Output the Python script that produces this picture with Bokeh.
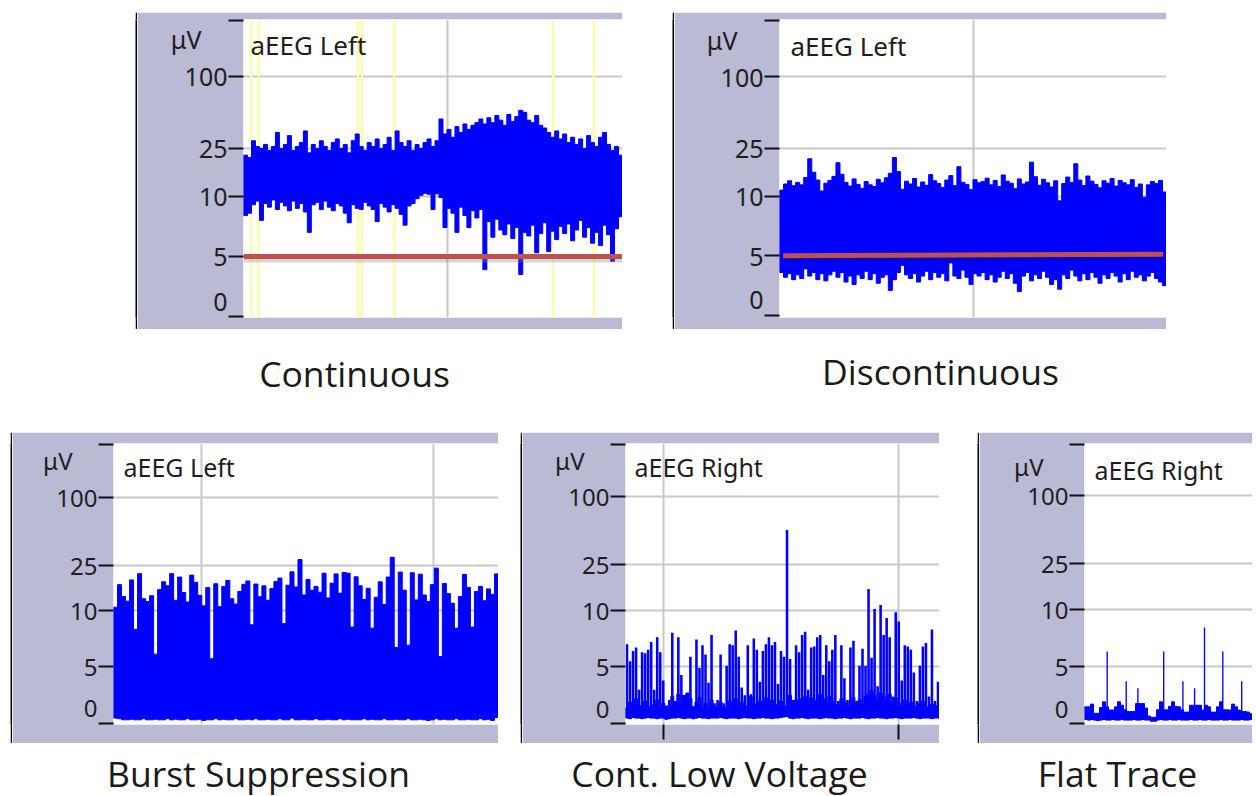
import numpy as np
from bokeh.plotting import figure
from bokeh.models import (Range1d, FixedTicker, LinearAxis, Grid, Spacer,
                          CustomJSTickFormatter)
from bokeh.layouts import row, column
from bokeh.embed import file_html
from bokeh.resources import INLINE
from bokeh.core.properties import value

# ---------------- data ----------------
ytick_values = [0, 5, 10, 25, 100]
ytick_labels = ["0", "5", "10", "25", "100"]
grid_values = [5, 10, 25, 100]
unit_label = "μV"
captions_top = ["Continuous", "Discontinuous"]
captions_bottom = ["Burst Suppression", "Cont. Low Voltage", "Flat Trace"]
channel_labels = ["aEEG Left", "aEEG Left", "aEEG Left", "aEEG Right", "aEEG Right"]

# Continuous (upper / lower margin per column, µV)
cont_top = [22, 21, 29, 26, 25, 27, 24, 26, 34, 25,
            27, 32, 24, 26, 28, 35, 23, 27, 25, 29,
            26, 24, 28, 30, 25, 27, 23, 29, 33, 26,
            24, 28, 26, 30, 25, 27, 31, 24, 35, 28,
            26, 29, 24, 27, 25, 28, 30, 26, 29, 44,
            33, 36, 31, 38, 34, 40, 36, 39, 41, 44,
            40, 45, 41, 47, 43, 39, 48, 42, 46, 52,
            50, 43, 41, 47, 39, 37, 34, 31, 35, 30,
            33, 28, 31, 27, 30, 25, 32, 28, 26, 31,
            34, 27, 24, 26, 22]
cont_bottom = [8.4, 8.6, 9.3, 9.6, 8.0, 9.4, 9.1, 9.7, 8.9, 9.5,
               9.2, 8.8, 9.6, 9.0, 9.4, 8.7, 7.0, 9.3, 9.5, 8.9,
               9.6, 9.1, 8.8, 9.4, 9.2, 8.6, 7.8, 9.3, 9.0, 8.9,
               9.5, 9.2, 8.9, 7.9, 9.4, 9.1, 8.7, 9.3, 9.0, 8.5,
               7.6, 9.2, 9.4, 9.8, 10.2, 10.6, 10.4, 8.9, 10.5, 9.9,
               7.4, 9.0, 8.6, 7.0, 9.1, 8.4, 7.4, 8.8, 8.2, 8.9,
               3.9, 7.9, 6.6, 8.1, 7.2, 6.8, 7.7, 6.5, 7.4, 3.5,
               7.0, 6.7, 7.6, 5.3, 6.9, 7.8, 5.4, 7.1, 6.4, 7.5,
               6.9, 7.7, 6.3, 7.2, 8.0, 6.6, 7.4, 6.1, 7.0, 5.9,
               7.6, 6.8, 4.6, 7.3, 8.3]
cont_markers = [1.93, 3.76, 28.7, 29.7, 37.8, 77.6, 87.8]
cont_threshold = [5.0, 5.0]

# Discontinuous
disc_top = [11.2, 12.6, 13.4, 12.2, 13.0, 12.4, 14.3, 20.5, 15.8, 13.6,
            11.0, 12.8, 13.5, 14.6, 19.0, 15.2, 13.0, 12.1, 13.9, 12.5,
            11.6, 13.2, 12.4, 12.0, 13.8, 12.9, 14.2, 15.5, 21.0, 16.0,
            11.4, 13.3, 12.6, 14.0, 11.9, 13.1, 12.3, 15.1, 13.4, 12.7,
            11.8, 13.6, 14.8, 12.2, 17.6, 13.0, 12.5, 11.3, 13.7, 12.9,
            13.2, 14.1, 12.4, 13.5, 12.0, 15.0, 13.3, 12.8, 11.5, 13.9,
            12.6, 13.1, 19.2, 14.5, 12.3, 13.8, 12.9, 11.9, 13.4, 9.6,
            12.7, 14.4, 13.0, 18.6, 13.6, 12.2, 14.7, 13.3, 12.5, 11.7,
            13.4, 12.8, 14.0, 12.1, 13.5, 12.9, 12.4, 13.7, 11.8, 12.6,
            9.9, 12.4, 13.2, 12.7, 13.5, 10.8]
disc_bottom = [3.6, 3.2, 3.5, 3.0, 3.4, 3.1, 3.9, 3.3, 3.6, 3.0,
               3.5, 2.9, 3.4, 3.7, 3.2, 3.6, 2.8, 3.3, 2.6, 3.4,
               3.1, 3.7, 3.0, 3.5, 2.7, 3.2, 3.4, 2.1, 3.0, 3.6,
               4.2, 3.4, 3.1, 3.5, 2.8, 3.3, 3.7, 3.0, 3.6, 3.2,
               3.5, 2.9, 4.4, 3.3, 3.1, 3.8, 3.2, 2.6, 3.5, 3.3,
               3.6, 3.0, 3.4, 2.8, 3.2, 3.7, 3.1, 3.5, 2.7, 2.0,
               3.3, 3.6, 2.9, 3.4, 3.1, 3.7, 3.2, 2.6, 3.0, 2.2,
               3.4, 3.1, 3.8, 3.3, 2.9, 3.5, 3.0, 3.6, 3.2, 2.7,
               3.4, 3.1, 3.6, 3.3, 2.8, 3.5, 3.0, 3.7, 3.2, 3.4,
               2.9, 3.3, 3.6, 3.1, 2.8, 2.5]
disc_threshold = [5.0, 5.13]

# Burst suppression
burst_top = [10.6, 16.8, 13.2, 12.0, 18.5, 8.3, 21.0, 12.6, 11.9, 13.4,
             6.1, 15.2, 17.8, 16.4, 21.0, 12.2, 19.6, 14.3, 11.8, 20.4,
             17.6, 13.5, 10.9, 15.8, 5.7, 17.1, 10.7, 16.2, 18.3, 12.6,
             11.3, 14.6, 16.9, 18.1, 8.7, 17.0, 13.1, 16.4, 12.2, 15.5,
             17.9, 19.2, 8.8, 16.6, 21.8, 16.0, 28.0, 13.6, 18.7, 15.0,
             16.2, 14.4, 21.2, 12.8, 17.3, 20.9, 14.1, 21.5, 21.2, 8.5,
             19.7, 16.4, 12.4, 15.6, 8.4, 13.0, 17.8, 11.2, 19.6, 29.3,
             6.7, 21.7, 15.0, 6.9, 21.4, 12.3, 20.8, 13.6, 11.9, 16.8,
             23.5, 5.9, 17.2, 14.0, 11.5, 8.4, 13.2, 20.7, 15.9, 8.5,
             14.6, 16.2, 12.1, 15.4, 13.8, 20.9]
burst_bottom = [0.45, 0.4, 0.3, 0.3, 0.35, 0.3, 0.3, 0.4, 0.3, 0.3,
                0.35, 0.3, 0.3, 0.4, 0.3, 0.35, 0.3, 0.3, 0.4, 0.3,
                0.3, 0.35, 0.25, 0.3, 0.3, 0.4, 0.3, 0.35, 0.3, 0.3,
                0.4, 0.3, 0.3, 0.35, 0.3, 0.4, 0.3, 0.3, 0.35, 0.3,
                0.3, 0.4, 0.3, 0.3, 0.45, 0.3, 0.3, 0.35, 0.3, 0.3,
                0.4, 0.3, 0.3, 0.35, 0.3, 0.3, 0.4, 0.3, 0.35, 0.3,
                0.3, 0.3, 0.4, 0.3, 0.35, 0.3, 0.3, 0.4, 0.3, 0.3,
                0.35, 0.3, 0.3, 0.4, 0.3, 0.3, 0.35, 0.3, 0.25, 0.3,
                0.4, 0.3, 0.35, 0.3, 0.3, 0.4, 0.3, 0.3, 0.35, 0.3,
                0.3, 0.4, 0.3, 0.35, 0.25, 0.5]

# Continuous low voltage
clv_top = [7.0, 5.5, 6.4, 6.7, 3.0, 6.3, 6.2, 6.5, 7.2, 3.0,
           7.6, 6.3, 3.8, 1.6, 2.1, 8.0, 2.0, 7.6, 4.3, 2.5,
           2.7, 5.9, 1.5, 7.4, 4.9, 6.9, 6.1, 3.6, 7.8, 1.8,
           2.1, 6.1, 1.8, 5.1, 7.0, 6.9, 8.2, 5.9, 3.2, 2.5,
           6.9, 2.6, 7.5, 6.5, 3.7, 6.4, 7.0, 7.6, 6.9, 7.2,
           3.5, 6.4, 5.9, 50.6, 5.7, 2.1, 6.9, 6.3, 7.8, 8.1,
           3.0, 6.7, 6.8, 7.6, 7.8, 4.3, 6.9, 5.5, 6.5, 7.8,
           2.0, 6.9, 4.0, 2.1, 6.7, 7.3, 2.0, 5.1, 6.6, 5.1,
           15.3, 5.8, 10.2, 3.3, 11.1, 7.8, 9.3, 7.6, 2.4, 9.8,
           9.0, 3.8, 6.9, 6.8, 6.5, 4.5, 2.0, 5.1, 6.8, 7.1,
           2.4, 8.3, 2.0, 3.7]
clv_base = [1.4, 1.9, 1.3, 2.2, 1.6, 1.3, 2.0, 1.5, 1.2, 1.7,
            2.1, 1.4, 1.8, 1.3, 1.6, 2.4, 1.9, 2.6, 2.3, 2.5,
            2.7, 2.2, 1.5, 1.9, 2.3, 1.4, 1.8, 1.3, 2.1, 1.6,
            1.4, 1.9, 1.5, 1.3, 2.0, 1.7, 2.2, 1.5, 1.9, 1.6,
            1.3, 2.4, 1.8, 1.4, 2.0, 1.6, 2.3, 1.9, 2.1, 1.5,
            1.7, 2.0, 1.6, 1.4, 2.5, 1.8, 2.1, 1.6, 2.2, 2.4,
            2.0, 2.3, 1.9, 2.1, 2.6, 2.2, 1.8, 2.4, 2.0, 1.7,
            1.6, 2.2, 1.9, 1.5, 2.0, 2.3, 1.8, 2.1, 1.7, 2.4,
            2.6, 2.9, 2.5, 2.2, 2.7, 2.4, 2.0, 2.6, 1.9, 2.3,
            1.8, 1.5, 2.1, 1.7, 1.9, 1.6, 1.4, 1.8, 2.0, 1.5,
            1.3, 1.7, 1.4, 1.6]
clv_bottom = [0.5, 0.45, 0.55, 0.5, 0.5, 0.45, 0.5, 0.55, 0.5, 0.5,
              0.45, 0.5, 0.5, 0.4, 0.45, 0.5, 0.5, 0.55, 0.5, 0.45,
              0.5, 0.5, 0.45, 0.5, 0.55, 0.5, 0.5, 0.45, 0.5, 0.5,
              0.5, 0.55, 0.5, 0.45, 0.5, 0.5, 0.5, 0.45, 0.5, 0.55,
              0.5, 0.5, 0.45, 0.5, 0.5, 0.55, 0.5, 0.5, 0.45, 0.5,
              0.5, 0.55, 0.6, 0.65, 0.5, 0.45, 0.5, 0.5, 0.55, 0.5,
              0.45, 0.5, 0.5, 0.5, 0.45, 0.5, 0.55, 0.5, 0.5, 0.45,
              0.5, 0.5, 0.55, 0.5, 0.45, 0.5, 0.5, 0.5, 0.55, 0.5,
              0.45, 0.5, 0.5, 0.55, 0.5, 0.5, 0.45, 0.5, 0.5, 0.55,
              0.5, 0.45, 0.5, 0.5, 0.5, 0.55, 0.5, 0.45, 0.5, 0.5,
              0.5, 0.45, 0.5, 0.5]

# Flat trace
flat_base = [1.46, 1.46, 1.7, 0.9, 0.9, 1.4, 1.9, 1.46, 1.18, 1.18,
             1.46, 1.9, 1.6, 1.2, 1.05, 1.05, 1.05, 1.75, 1.75, 1.75,
             1.35, 0.65, 0.55, 0.55, 1.2, 1.9, 1.2, 1.2, 1.5, 1.9,
             1.5, 1.46, 1.2, 1.0, 1.0, 1.6, 1.6, 1.6, 1.6, 1.18,
             1.6, 1.46, 1.0, 1.0, 1.46, 1.9, 1.2, 1.2, 1.18, 1.7,
             1.46, 1.18, 1.05, 1.05, 1.0, 0.85]
flat_bottom = [0.35, 0.3, 0.35, 0.3, 0.25, 0.3, 0.35, 0.3, 0.3, 0.35,
               0.3, 0.3, 0.35, 0.3, 0.3, 0.3, 0.35, 0.3, 0.3, 0.35,
               0.3, 0.3, 0.2, 0.2, 0.3, 0.35, 0.3, 0.3, 0.35, 0.3,
               0.3, 0.35, 0.3, 0.3, 0.3, 0.35, 0.3, 0.3, 0.35, 0.3,
               0.3, 0.35, 0.3, 0.3, 0.3, 0.35, 0.3, 0.3, 0.35, 0.3,
               0.3, 0.3, 0.35, 0.3, 0.3, 0.35]
flat_spike_x = [7.56, 13.9, 17.8, 26.4, 32.8, 36.7, 40.0, 46.1, 52.4]
flat_spike_top = [6.3, 3.7, 3.1, 6.3, 3.7, 3.1, 8.4, 6.3, 3.7]

# ---------------- style ----------------
LAV = "#BABAD5"
BLUE = "#0000FF"
GRID = "#C8C8C8"
RED = "#C0504D"
YEL = "#FFFF99"
TXT = "#1E1E1E"
NBSP = "\u00a0"


def aeeg_scale(v):
    v = np.asarray(v, dtype=float)
    return np.where(v <= 10, v / 10.0, 1.0 + np.log10(np.maximum(v, 10.0) / 10.0))


def step_band(top, bottom):
    """Outline of a stepped band (one column per value) through data space."""
    t = aeeg_scale(top)
    b = aeeg_scale(bottom)
    n = len(t)
    xs, ys = [], []
    for i in range(n):
        xs += [i, i + 1]
        ys += [t[i], t[i]]
    for i in range(n - 1, -1, -1):
        xs += [i + 1, i]
        ys += [b[i], b[i]]
    return xs, ys


def make_panel(W, H, L, T, B, ppu, zero_off, ncols, fs_tick, mu_up, vgrid):
    frame_h = H - T - B
    ppx = (W - L) / ncols
    y0 = -zero_off / ppu
    y1 = y0 + frame_h / ppu
    p = figure(width=W, height=H, x_range=Range1d(0, ncols), y_range=Range1d(y0, y1),
               x_axis_location=None, y_axis_location=None, toolbar_location=None,
               output_backend="svg", min_border_left=L, min_border_right=0,
               min_border_top=T, min_border_bottom=B,
               background_fill_color="white", border_fill_color=LAV,
               outline_line_color=None)
    p.xgrid.visible = False
    p.ygrid.visible = False
    gpos = [round(float(aeeg_scale(v)), 4) for v in grid_values]
    p.add_layout(Grid(dimension=1, ticker=FixedTicker(ticks=gpos),
                      grid_line_color=GRID, grid_line_width=2))
    if vgrid:
        p.add_layout(Grid(dimension=0, ticker=FixedTicker(ticks=vgrid),
                          grid_line_color=GRID, grid_line_width=2))
    tick_pos = [round(float(aeeg_scale(v)), 4) for v in ytick_values] + [round(y1 - 1.0 / ppu, 4)]
    tick_ax = LinearAxis(ticker=FixedTicker(ticks=tick_pos),
                         formatter=CustomJSTickFormatter(code="return ''"),
                         major_tick_out=15, major_tick_in=0, minor_tick_out=0, minor_tick_in=0,
                         major_tick_line_width=2, major_tick_line_color="#111111",
                         axis_line_color=None, major_label_standoff=0)
    p.add_layout(tick_ax, "left")
    lab_pos = [round(float(aeeg_scale(v)), 4) for v in ytick_values]
    lab_pos[0] = round(16.0 / ppu, 4)
    mu_pos = round(mu_up / ppu, 4)
    overrides = {pos: lab for pos, lab in zip(lab_pos, ytick_labels)}
    overrides[mu_pos] = unit_label + NBSP * 4
    lab_ax = LinearAxis(ticker=FixedTicker(ticks=lab_pos + [mu_pos]),
                        major_label_overrides=overrides,
                        major_tick_out=0, major_tick_in=0, minor_tick_out=0, minor_tick_in=0,
                        axis_line_color=None, major_label_standoff=1,
                        major_label_text_font="Noto Sans", major_label_text_font_size=fs_tick,
                        major_label_text_color=TXT)
    p.add_layout(lab_ax, "left")
    return p, ppx, ppu


def channel_text(p, ppx, ppu, label, dx, up, fs):
    p.text(x=[dx / ppx], y=[up / ppu], text=[label], text_align="left",
           text_baseline="middle", text_font=value("Noto Sans"),
           text_font_size=value(fs), text_color=TXT)


def black_bar(h):
    b = figure(width=2, height=h, x_axis_location=None, y_axis_location=None,
               toolbar_location=None, output_backend="svg", min_border=0,
               background_fill_color="black", border_fill_color="black",
               outline_line_color=None)
    b.xgrid.visible = False
    b.ygrid.visible = False
    return b


def caption_fig(H, names, centers, mids):
    c = figure(width=1256, height=H, x_range=Range1d(0, 1256), y_range=Range1d(H, 0),
               x_axis_location=None, y_axis_location=None, toolbar_location=None,
               output_backend="svg", min_border=0, outline_line_color=None,
               background_fill_color="white", border_fill_color="white")
    c.xgrid.visible = False
    c.ygrid.visible = False
    c.text(x=centers, y=mids, text=names, text_align="center",
           text_baseline="middle", text_font=value("Open Sans"),
           text_font_size=value("35.5px"), text_color="#1A1A1A")
    return c


# ---- Panel 1: Continuous ----
n1 = len(cont_top)
p1, ppx1, ppu1 = make_panel(485, 317, 106, 7, 10, 121.0, 1, n1, "25px", 279, [51.1])
p1.segment(x0=cont_markers, y0=[p1.y_range.start] * len(cont_markers),
           x1=cont_markers, y1=[p1.y_range.end] * len(cont_markers),
           line_color=YEL, line_width=2)
bx, by = step_band(cont_top, cont_bottom)
p1.patch(bx, by, fill_color=BLUE, line_color=BLUE, line_width=1)
thr1 = aeeg_scale(cont_threshold)
p1.line(x=[0, n1], y=thr1 - 4.0 / 121.0, line_color="#888888", line_alpha=0.35, line_width=4)
p1.line(x=[0, n1], y=thr1, line_color=RED, line_width=5)
channel_text(p1, ppx1, ppu1, channel_labels[0], 7, 273, "26px")

# ---- Panel 2: Discontinuous ----
n2 = len(disc_top)
p2, ppx2, ppu2 = make_panel(492, 317, 105, 7, 12, 119.5, 2, n2, "25px", 276, [48.0])
bx, by = step_band(disc_top, disc_bottom)
p2.patch(bx, by, fill_color=BLUE, line_color=BLUE, line_width=1)
thr2 = aeeg_scale(disc_threshold)
p2.line(x=[0.9, n2 - 0.8], y=thr2 - 4.0 / 119.5, line_color="#000066", line_alpha=0.35, line_width=4)
p2.line(x=[0.9, n2 - 0.8], y=thr2, line_color=RED, line_width=5)
channel_text(p2, ppx2, ppu2, channel_labels[1], 11, 270, "26px")

# ---- Panel 3: Burst suppression ----
n3 = len(burst_top)
p3, ppx3, ppu3 = make_panel(486, 311, 101, 10, 19, 113.5, 1.3, n3, "24px", 264, [21.9, 79.7])
bx, by = step_band(burst_top, burst_bottom)
p3.patch(bx, by, fill_color=BLUE, line_color=BLUE, line_width=1)
channel_text(p3, ppx3, ppu3, channel_labels[2], 10, 257, "25px")

# ---- Panel 4: Continuous low voltage ----
n4 = len(clv_top)
vgrid4 = [12.5, 90.5]
p4, ppx4, ppu4 = make_panel(417, 311, 103, 10, 15, 115.8, 0.7, n4, "24px", 268, vgrid4)
xax4 = LinearAxis(ticker=FixedTicker(ticks=vgrid4),
                  formatter=CustomJSTickFormatter(code="return ''"),
                  major_tick_out=15, major_tick_in=0, minor_tick_out=0, minor_tick_in=0,
                  major_tick_line_width=2, major_tick_line_color="#111111",
                  axis_line_color=None, major_label_standoff=0,
                  major_label_text_font_size="1px")
p4.add_layout(xax4, "below")
bx, by = step_band(clv_base, clv_bottom)
p4.patch(bx, by, fill_color=BLUE, line_color=BLUE, line_width=1)
x4 = np.arange(n4) + 0.5
p4.vbar(x=x4, width=0.85, top=aeeg_scale(clv_top), bottom=aeeg_scale(clv_bottom),
        fill_color=BLUE, line_color=None)
channel_text(p4, ppx4, ppu4, channel_labels[3], 9, 261, "25px")

# ---- Panel 5: Flat trace ----
n5 = len(flat_base)
p5, ppx5, ppu5 = make_panel(273, 311, 105, 11, 8, 118.7, 1, n5, "24px", 267, [])
bx, by = step_band(flat_base, flat_bottom)
p5.patch(bx, by, fill_color=BLUE, line_color=BLUE, line_width=1)
p5.vbar(x=flat_spike_x, width=0.45, top=aeeg_scale(flat_spike_top),
        bottom=aeeg_scale([0.5] * len(flat_spike_x)), fill_color=BLUE, line_color=None)
channel_text(p5, ppx5, ppu5, channel_labels[4], 10, 263, "25px")

# ---- captions ----
cap_top = caption_fig(103, captions_top, [354, 940], [43, 41])
cap_bottom = caption_fig(53, captions_bottom, [258, 719, 1117], [29, 29, 29])

top_row = row(Spacer(width=135, height=317), black_bar(317), p1,
              Spacer(width=50, height=317), black_bar(317), p2)
bottom_row = row(Spacer(width=10, height=311), black_bar(311), p3,
                 Spacer(width=22, height=311), black_bar(311), p4,
                 Spacer(width=38, height=311), black_bar(311), p5)
layout = column(Spacer(width=1256, height=12), top_row, cap_top, bottom_row, cap_bottom)

open("out.html", "w").write(file_html(layout, INLINE))
